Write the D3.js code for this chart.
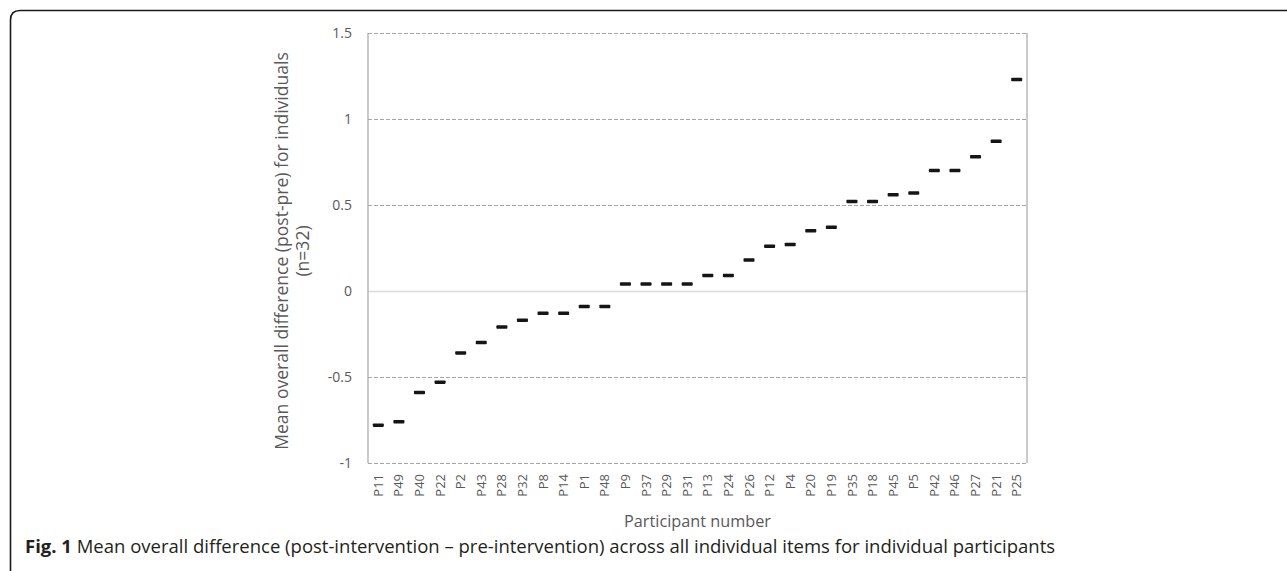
<!DOCTYPE html>
<html>
<head>
<meta charset="utf-8">
<script src="https://cdn.jsdelivr.net/npm/d3@7"></script>
<style>
  html, body { margin: 0; padding: 0; background: #fff; }
  svg { display: block; }
</style>
</head>
<body>
<svg id="chart" width="1287" height="571"></svg>
<script>
const participants = ["P11","P49","P40","P22","P2","P43","P28","P32","P8","P14","P1","P48","P9","P37","P29","P31","P13","P24","P26","P12","P4","P20","P19","P35","P18","P45","P5","P42","P46","P27","P21","P25"];
const meanDifference = [-0.78,-0.76,-0.59,-0.53,-0.36,-0.30,-0.21,-0.17,-0.13,-0.13,-0.09,-0.09,0.04,0.04,0.04,0.04,0.09,0.09,0.18,0.26,0.27,0.35,0.37,0.52,0.52,0.56,0.57,0.70,0.70,0.78,0.87,1.23];
const yTicks = [-1, -0.5, 0, 0.5, 1, 1.5];
const yTitleLines = ["Mean overall difference (post-pre) for individuals", "(n=32)"];
const xTitle = "Participant number";
const captionBold = "Fig. 1";
const captionText = " Mean overall difference (post-intervention \u2013 pre-intervention) across all individual items for individual participants";

(function () {
const svg = d3.select("#chart");
const font = "'Open Sans', 'Noto Sans', sans-serif";
const pLeft = 368, pRight = 1027, pTop = 33, pBottom = 463;

function fitWidth(sel, target) {
  const fs = parseFloat(sel.attr("font-size"));
  const w = sel.node().getComputedTextLength();
  if (w > 0) sel.attr("font-size", (fs * target / w).toFixed(2));
}

// frame (rounded top-left corner)
svg.append("path")
  .attr("d", `M10.5,575 L10.5,20 Q10.5,10.5 20,10.5 L1290,10.5`)
  .attr("fill", "none").attr("stroke", "#1a1a1a").attr("stroke-width", 1.6);

const x = d3.scaleBand().domain(participants).range([pLeft, pRight]).padding(0);
const y = d3.scaleLinear().domain([-1, 1.5]).range([pBottom, pTop]);

// gridlines
const g = svg.append("g");
g.selectAll("line.grid").data(yTicks).join("line")
  .attr("class", "grid")
  .attr("x1", pLeft).attr("x2", pRight)
  .attr("y1", d => Math.round(y(d)) + 0.5).attr("y2", d => Math.round(y(d)) + 0.5)
  .attr("stroke", d => d === 0 ? "#d9d9d9" : "#a6a6a6")
  .attr("stroke-width", d => d === 0 ? 1.3 : 1)
  .attr("stroke-dasharray", d => d === 0 ? null : "4,2");

// plot side borders
[pLeft, pRight].forEach(px => {
  g.append("line").attr("x1", px).attr("x2", px).attr("y1", y(1.5)).attr("y2", y(-1))
    .attr("stroke", "#a6a6a6").attr("stroke-width", 1.2);
});

// y axis labels
const yAxis = d3.axisLeft(y).tickValues(yTicks).tickSize(0).tickPadding(16).tickFormat(d => String(d));
const ya = svg.append("g").attr("transform", `translate(${pLeft},0)`).call(yAxis);
ya.select(".domain").remove();
ya.selectAll("text").attr("font-family", font).attr("font-size", 14).attr("fill", "#595959");

// x axis labels
const xAxis = d3.axisBottom(x).tickSize(0).tickPadding(0);
const xa = svg.append("g").attr("transform", `translate(0,${pBottom})`).call(xAxis);
xa.select(".domain").remove();
xa.selectAll("text")
  .attr("font-family", font).attr("font-size", 13).attr("fill", "#595959")
  .attr("text-anchor", "end").attr("dy", "0.35em")
  .attr("transform", "translate(0,11) rotate(-90)")
  .attr("x", 0).attr("y", 0);

// markers
svg.append("g").selectAll("rect").data(participants).join("rect")
  .attr("x", (d) => x(d) + x.bandwidth() / 2 - 5.5)
  .attr("y", (d, i) => y(meanDifference[i]) - 1.75)
  .attr("width", 11).attr("height", 3.5)
  .attr("rx", 0.8)
  .attr("fill", "#151515");

// y title
const yCenter = 251;
const line1 = svg.append("text")
  .attr("transform", `translate(282,${yCenter}) rotate(-90)`)
  .attr("text-anchor", "middle").attr("dy", "0.35em")
  .attr("font-family", font).attr("font-size", 15).attr("fill", "#595959")
  .text(yTitleLines[0]);
fitWidth(line1, 398);
svg.append("text")
  .attr("transform", `translate(303,${yCenter}) rotate(-90)`)
  .attr("text-anchor", "middle").attr("dy", "0.35em")
  .attr("font-family", font).attr("font-size", line1.attr("font-size")).attr("fill", "#595959")
  .text(yTitleLines[1]);

// x title
const xt = svg.append("text")
  .attr("x", (pLeft + pRight) / 2).attr("y", 527)
  .attr("text-anchor", "middle")
  .attr("font-family", font).attr("font-size", 15).attr("fill", "#595959")
  .text(xTitle);
fitWidth(xt, 147);

// caption
const cap = svg.append("text").attr("x", 25).attr("y", 553)
  .attr("font-family", font).attr("font-size", 16).attr("fill", "#231f20");
cap.append("tspan").attr("font-weight", "bold").text(captionBold);
cap.append("tspan").text(captionText);
fitWidth(cap, 1030);
})();
</script>
</body>
</html>
